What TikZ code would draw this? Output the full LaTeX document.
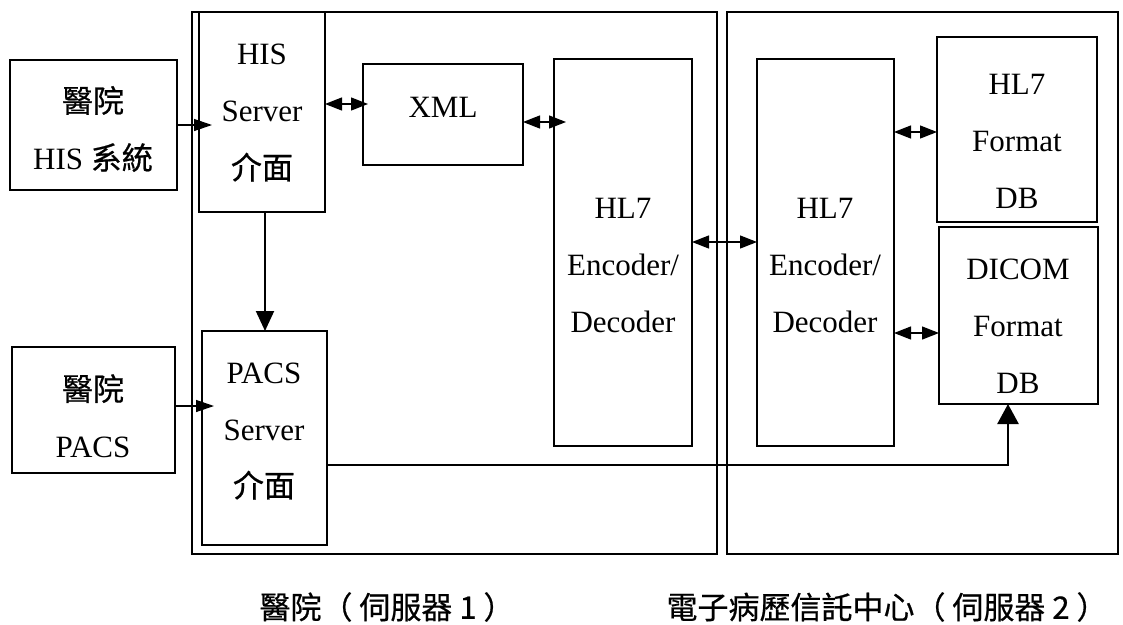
\documentclass[tikz,border=0pt]{standalone}
\usepackage{fontspec}
\setmainfont{Liberation Serif}
\newfontfamily\cjk{Noto Sans CJK TC}[FakeBold=0.6]
\usetikzlibrary{arrows.meta,fit}
\begin{document}
\begin{tikzpicture}[x=1pt,y=-1pt,
  box/.style={draw,line width=1.6pt,inner sep=0pt,outer sep=0pt},
  grp/.style={draw,line width=1.5pt,inner sep=0pt,outer sep=0pt},
  txt/.style={align=center,inner sep=0pt,font=\fontsize{31}{57}\selectfont},
  lbl/.style={inner sep=0pt,font=\fontsize{31}{40}\selectfont\cjk},
  arr/.style={line width=1.3pt,-{Triangle[length=18pt,width=12pt]}},
  darr/.style={line width=1.3pt,{Triangle[length=17pt,width=13pt]}-{Triangle[length=17pt,width=13pt]}},
  vert arr/.style={line width=2pt,-{Triangle[length=20pt,width=18pt]}},
  thick arr/.style={line width=2.6pt,-{Triangle[length=20pt,width=21pt]}}]
\useasboundingbox (0,0) rectangle (1123,624);

% server groups
\node[grp,fit={(192,12)(717,554)}] (grp1) {};
\node[grp,fit={(727,12)(1118,554)}] (grp2) {};

% boxes
\node[box,fit={(10,60)(177,190)}]   (his)    {};
\node[box,fit={(199,12)(325,212)}]  (hissrv) {};
\node[box,fit={(363,64)(523,165)}]  (xml)    {};
\node[box,fit={(554,59)(692,446)}]  (hlL)    {};
\node[box,fit={(757,59)(894,446)}]  (hlR)    {};
\node[box,fit={(937,37)(1097,222)}] (fmt)    {};
\node[box,fit={(939,227)(1098,404)}](dicom)  {};
\node[box,fit={(12,347)(175,473)}]  (pacs)   {};
\node[box,fit={(202,331)(327,545)}] (pacssrv){};

% box texts
\node[txt] (hisT)     at (93,129)   {{\cjk 醫院}\\HIS {\cjk 系統}};
\node[txt] (hissrvT)  at (262,113)  {HIS\\Server\\{\cjk 介面}};
\node[txt] (xmlT)     at (443,107)  {XML};
\node[txt] (hlLT)     at (623,265)  {HL7\\Encoder/\\Decoder};
\node[txt] (hlRT)     at (825,265)  {HL7\\Encoder/\\Decoder};
\node[txt] (fmtT)     at (1017,141) {HL7\\Format\\DB};
\node[txt] (dicomT)   at (1018,326) {DICOM\\Format\\DB};
\node[txt] (pacsT)    at (93,416)   {{\cjk 醫院}\\PACS};
\node[txt] (pacssrvT) at (264,431)  {PACS\\Server\\{\cjk 介面}};

% captions
\node[lbl] (cap1) at (387,607) {醫院（ 伺服器 1 ）};
\node[lbl] (cap2) at (887,607) {電子病歷信託中心（ 伺服器 2 ）};

% connectors
\draw[arr]  (his.east |- 0,125) -- ([xshift=13pt]hissrv.west |- 0,125);
\draw[darr] (hissrv.east |- 0,104) -- ([xshift=5pt]xml.west |- 0,104);
\draw[darr] (xml.east |- 0,122) -- ([xshift=12pt]hlL.west |- 0,122);
\draw[darr] (hlL.east |- 0,242) -- (hlR.west |- 0,242);
\draw[darr] (hlR.east |- 0,132) -- (fmt.west |- 0,132);
\draw[darr] (hlR.east |- 0,333) -- (dicom.west |- 0,333);
\draw[vert arr] (265,0 |- hissrv.south) -- (265,0 |- pacssrv.north);
\draw[arr]  (pacs.east |- 0,406) -- ([xshift=12pt]pacssrv.west |- 0,406);
\coordinate (bend) at (1008,465);
\draw[thick arr] (pacssrv.east |- bend) -- (bend) -- (bend |- dicom.south);
\end{tikzpicture}
\end{document}
